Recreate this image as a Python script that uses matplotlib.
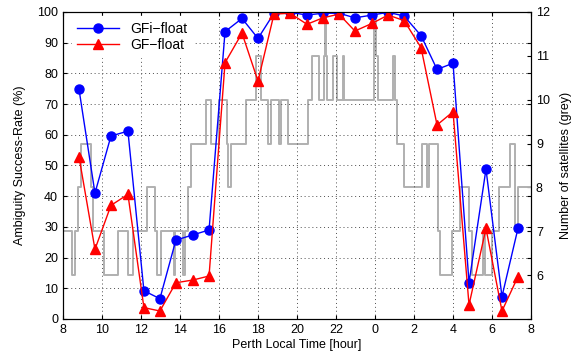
import matplotlib
matplotlib.use("Agg")
import matplotlib.pyplot as plt

plt.rcParams["font.family"] = ["Liberation Sans", "DejaVu Sans"]
plt.rcParams["font.size"] = 9

# epoch hours (continuous, >24 means next day)
hours = [8.82, 9.64, 10.46, 11.33, 12.15, 12.97, 13.79, 14.67, 15.49, 16.31,
         17.18, 18.00, 18.82, 19.64, 20.51, 21.33, 22.15, 22.97, 23.85, 24.67,
         25.49, 26.36, 27.18, 28.00, 28.82, 29.69, 30.51, 31.33]
gfi_float = [74.9, 41.0, 59.6, 61.2, 9.2, 6.6, 25.7, 27.4, 29.0, 93.6,
             97.9, 91.4, 99.6, 99.9, 99.0, 99.6, 99.6, 98.1, 99.0, 99.9,
             98.7, 92.3, 81.3, 83.3, 11.8, 48.8, 7.3, 29.5]
gf_float = [52.9, 22.7, 37.0, 40.6, 3.7, 2.6, 11.8, 12.7, 14.0, 83.5,
            93.1, 77.5, 99.3, 99.6, 96.0, 98.1, 99.3, 93.8, 96.3, 99.0,
            97.2, 88.4, 63.2, 67.5, 4.6, 29.5, 2.6, 13.8]

# number of satellites: change times and counts (step, post)
sat_t = [8.00, 8.45, 8.62, 8.78, 8.92, 9.44, 9.52, 10.12, 10.84, 11.32,
         11.57, 12.32, 12.73, 12.84, 13.01, 13.69, 13.76, 14.15, 14.24, 14.41,
         14.55, 15.35, 15.57, 16.00, 16.41, 16.48, 16.60, 17.38, 17.92, 18.15,
         18.51, 18.69, 19.09, 19.18, 19.54, 20.54, 20.77, 21.13, 21.38, 21.44,
         21.51, 21.54, 21.86, 22.04, 22.37, 22.43, 23.95, 23.97, 24.03, 24.15,
         24.92, 25.03, 25.11, 25.49, 26.41, 26.65, 26.75, 27.25, 27.33, 27.95,
         28.36, 28.82, 28.96, 29.55, 29.64, 29.98, 30.37, 30.92, 31.18, 31.35,
         32.00]
sat_n = [7, 6, 7, 8, 9, 8, 7, 6, 7, 6,
         7, 8, 7, 6, 7, 6, 7, 6, 7, 8,
         9, 10, 9, 10, 9, 8, 9, 10, 11, 10,
         9, 10, 9, 10, 9, 10, 11, 10, 11, 12,
         11, 10, 11, 10, 11, 10, 11, 12, 11, 10,
         11, 10, 9, 8, 9, 8, 9, 7, 6, 7,
         8, 7, 6, 7, 6, 7, 8, 9, 7, 8,
         8]

xticks = list(range(8, 33, 2))
xticklabels = [str(h % 24) for h in xticks]

fig = plt.figure(figsize=(5.81, 3.58), dpi=100)
ax = fig.add_axes([0.1084, 0.109, 0.8056, 0.8575])
ax2 = ax.twinx()

ax2.step(sat_t, sat_n, where="post", color="#b0b0b0", lw=1.4)
ax2.set_ylim(5, 12)
ax2.set_yticks(range(6, 13))
ax2.set_ylabel("Number of satellites (grey)", labelpad=7)
ax2.tick_params(direction="in", length=3)

ax.set_zorder(ax2.get_zorder() + 1)
ax.patch.set_visible(False)
ax.plot(hours, gfi_float, "-o", color="#0000ff", lw=1, ms=6.5, label="GFi\u2212float")
ax.plot(hours, gf_float, "-^", color="#ff0000", lw=1, ms=6.5, label="GF\u2212float")
ax.set_xlim(8, 32)
ax.set_ylim(0, 100)
ax.set_xticks(xticks)
ax.set_xticklabels(xticklabels)
ax.set_yticks(range(0, 101, 10))
ax.grid(True, ls=(0, (1, 3)), color="0.3", lw=0.7)
ax.tick_params(direction="in", length=3, top=True)
ax.tick_params(axis="y", right=True)
ax.set_xlabel("Perth Local Time [hour]", labelpad=2)
ax.set_ylabel("Ambiguity Success-Rate (%)", labelpad=8)
ax.legend(loc="upper left", bbox_to_anchor=(0.01, 1.0), fontsize=10,
          frameon=True, edgecolor="white", framealpha=1, fancybox=False,
          handlelength=3, borderaxespad=0.3, labelspacing=0.15)

fig.savefig("out.png", dpi=100)
